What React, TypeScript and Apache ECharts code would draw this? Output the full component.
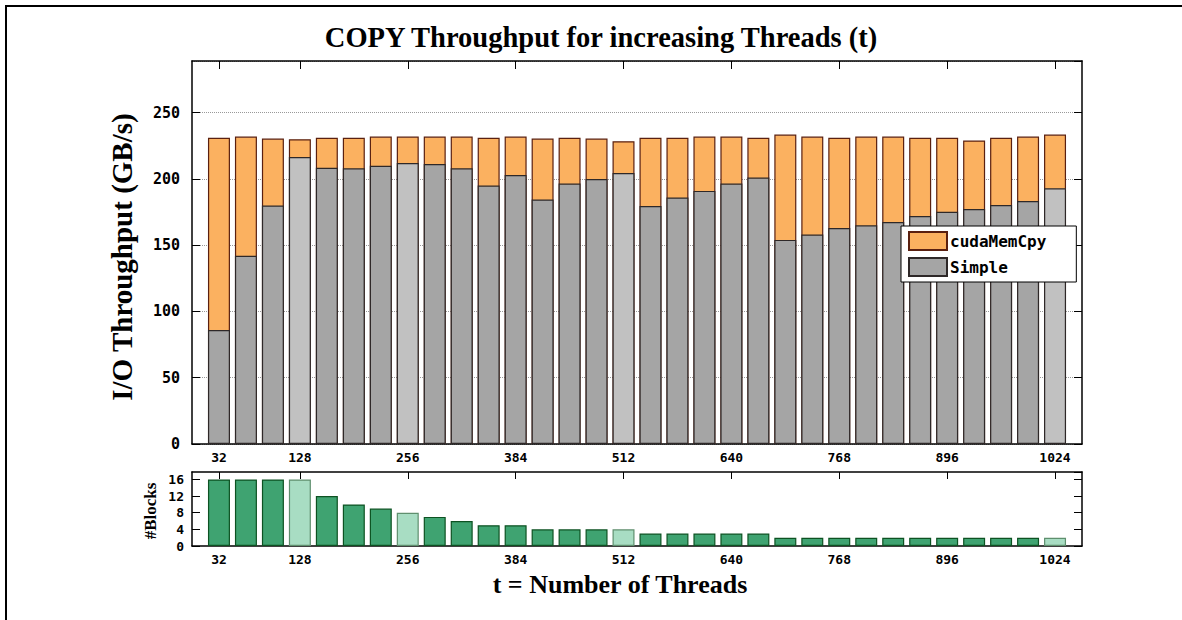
import React, { useEffect, useRef } from "react";
import * as echarts from "echarts";

const threads = [
  32, 64, 96, 128, 160, 192, 224, 256, 288, 320, 352, 384, 416, 448, 480, 512,
  544, 576, 608, 640, 672, 704, 736, 768, 800, 832, 864, 896, 928, 960, 992, 1024,
];
const simple = [
  86, 142, 180, 216.5, 208.5, 208, 210, 212, 211.3, 208, 195, 203, 184.5, 196.5, 200, 204.5,
  179.5, 186, 191, 196.5, 201, 154, 158, 163, 165, 167.5, 172, 175.3, 177.3, 180.3, 183.3, 193,
];
const cudaMemCpy = [
  231, 232, 230.5, 230, 231, 231, 232, 232, 232, 232, 231, 232, 230.5, 231, 230.5, 228.5,
  231, 231, 232, 232, 231, 233.5, 232, 231, 232, 232, 231, 231, 229, 231, 232, 233.5,
];
const blocks = [
  16, 16, 16, 16, 12, 10, 9, 8, 7, 6, 5, 5, 4, 4, 4, 4,
  3, 3, 3, 3, 3, 2, 2, 2, 2, 2, 2, 2, 2, 2, 2, 2,
];
const highlighted = [128, 256, 512, 1024];
const tickThreads = [32, 128, 256, 384, 512, 640, 768, 896, 1024];

const MONO = "'DejaVu Sans Mono', monospace";
const SERIF = "'Liberation Serif', 'Times New Roman', serif";

export default function App() {
  const ref = useRef<HTMLDivElement>(null);
  useEffect(() => {
    if (!ref.current) return;
    const chart = echarts.init(ref.current, null, { renderer: "svg" });
    const tickIdx = tickThreads.map((t) => threads.indexOf(t));
    const isHi = (i: number) => highlighted.includes(threads[i]);

    const xBase = (grid: number, pos: "top" | "bottom", labels: boolean) => ({
      type: "value",
      gridIndex: grid,
      min: -1,
      max: 32,
      position: pos,
      axisLine: { show: true, onZero: false, lineStyle: { color: "#000", width: 1.5 } },
      axisTick: {
        show: true,
        inside: true,
        length: grid === 0 ? 8 : 7,
        customValues: tickIdx,
        lineStyle: { color: "#000", width: 1 },
      },
      axisLabel: {
        show: labels,
        customValues: tickIdx,
        formatter: (v: number) => String(threads[Math.round(v)]),
        margin: 7,
        color: "#000",
        fontFamily: MONO,
        fontWeight: "bold",
        fontSize: 13,
      },
      splitLine: { show: false },
    });

    const yBase = (
      grid: number,
      pos: "left" | "right",
      max: number,
      interval: number,
      labels: boolean,
      split: boolean
    ) => ({
      type: "value",
      gridIndex: grid,
      min: 0,
      max,
      interval,
      position: pos,
      axisLine: { show: true, onZero: false, lineStyle: { color: "#000", width: 1.5 } },
      axisTick: { show: true, inside: true, length: 8, lineStyle: { color: "#000", width: 1 } },
      axisLabel: {
        show: labels,
        showMaxLabel: false,
        margin: grid === 0 ? 12 : 8,
        color: "#000",
        fontFamily: MONO,
        fontWeight: "bold",
        fontSize: grid === 0 ? 15 : 13,
      },
      splitLine: {
        show: split,
        lineStyle: { color: "#999", type: "dotted", width: 1 },
      },
    });

    chart.setOption({
      animation: false,
      backgroundColor: "#fff",
      graphic: [
        { type: "line", shape: { x1: 5, y1: 6, x2: 1182, y2: 6 }, style: { stroke: "#000", lineWidth: 2 } },
        { type: "line", shape: { x1: 6, y1: 5, x2: 6, y2: 620 }, style: { stroke: "#000", lineWidth: 2 } },
        {
          type: "text",
          x: 601,
          y: 37,
          style: {
            text: "COPY Throughput for increasing Threads (t)",
            font: `bold 28.5px ${SERIF}`,
            fill: "#000",
            textAlign: "center",
            textVerticalAlign: "middle",
          },
        },
        {
          type: "text",
          x: 122,
          y: 257,
          rotation: Math.PI / 2,
          style: {
            text: "I/O Throughput (GB/s)",
            font: `bold 29px ${SERIF}`,
            fill: "#000",
            textAlign: "center",
            textVerticalAlign: "middle",
          },
        },
        {
          type: "text",
          x: 150,
          y: 511,
          rotation: Math.PI / 2,
          style: {
            text: "#Blocks",
            font: `bold 17px ${SERIF}`,
            fill: "#000",
            textAlign: "center",
            textVerticalAlign: "middle",
          },
        },
        {
          type: "text",
          x: 620,
          y: 584,
          style: {
            text: "t = Number of Threads",
            font: `bold 26px ${SERIF}`,
            fill: "#000",
            textAlign: "center",
            textVerticalAlign: "middle",
          },
        },
      ],
      legend: {
        data: ["cudaMemCpy", "Simple"],
        orient: "vertical",
        left: 901,
        top: 226,
        icon: "rect",
        itemWidth: 38,
        itemHeight: 18,
        itemGap: 6,
        padding: [5, 30, 5, 7],
        backgroundColor: "#fff",
        borderColor: "#000",
        borderWidth: 1,
        borderRadius: 0,
        textStyle: { color: "#000", fontFamily: MONO, fontWeight: "bold", fontSize: 16, padding: [0, 0, 0, -2] },
      },
      grid: [
        { left: 192, top: 61, width: 890, height: 383 },
        { left: 192, top: 472, width: 890, height: 74 },
      ],
      xAxis: [
        xBase(0, "bottom", true),
        xBase(0, "top", false),
        xBase(1, "bottom", true),
        xBase(1, "top", false),
      ],
      yAxis: [
        yBase(0, "left", 289, 50, true, true),
        yBase(0, "right", 289, 50, false, false),
        yBase(1, "left", 17.8, 4, true, false),
        yBase(1, "right", 17.8, 4, false, false),
      ],
      series: [
        {
          name: "cudaMemCpy",
          type: "bar",
          xAxisIndex: 0,
          yAxisIndex: 0,
          barWidth: 22,
          itemStyle: { color: "#fbb160", borderColor: "#5a2010", borderWidth: 1.2 },
          data: cudaMemCpy.map((v, i) => [i, v]),
        },
        {
          name: "Simple",
          type: "bar",
          xAxisIndex: 0,
          yAxisIndex: 0,
          barWidth: 22,
          barGap: "-100%",
          itemStyle: { color: "#a5a5a5", borderColor: "#2e2828", borderWidth: 1.2 },
          data: simple.map((v, i) => ({
            value: [i, v],
            itemStyle: isHi(i) ? { color: "#c1c1c1" } : undefined,
          })),
        },
        {
          name: "#Blocks",
          type: "bar",
          xAxisIndex: 2,
          yAxisIndex: 2,
          barWidth: 22,
          itemStyle: { color: "#3fa371", borderColor: "#0d5222", borderWidth: 1.2 },
          data: blocks.map((v, i) => ({
            value: [i, v],
            itemStyle: isHi(i) ? { color: "#a8ddc3", borderColor: "#5f8f6e" } : undefined,
          })),
        },
      ],
    });
    return () => chart.dispose();
  }, []);

  return (
    <div
      ref={ref}
      style={{ position: "fixed", left: 0, top: 0, width: 1182, height: 620, background: "#fff" }}
    />
  );
}
